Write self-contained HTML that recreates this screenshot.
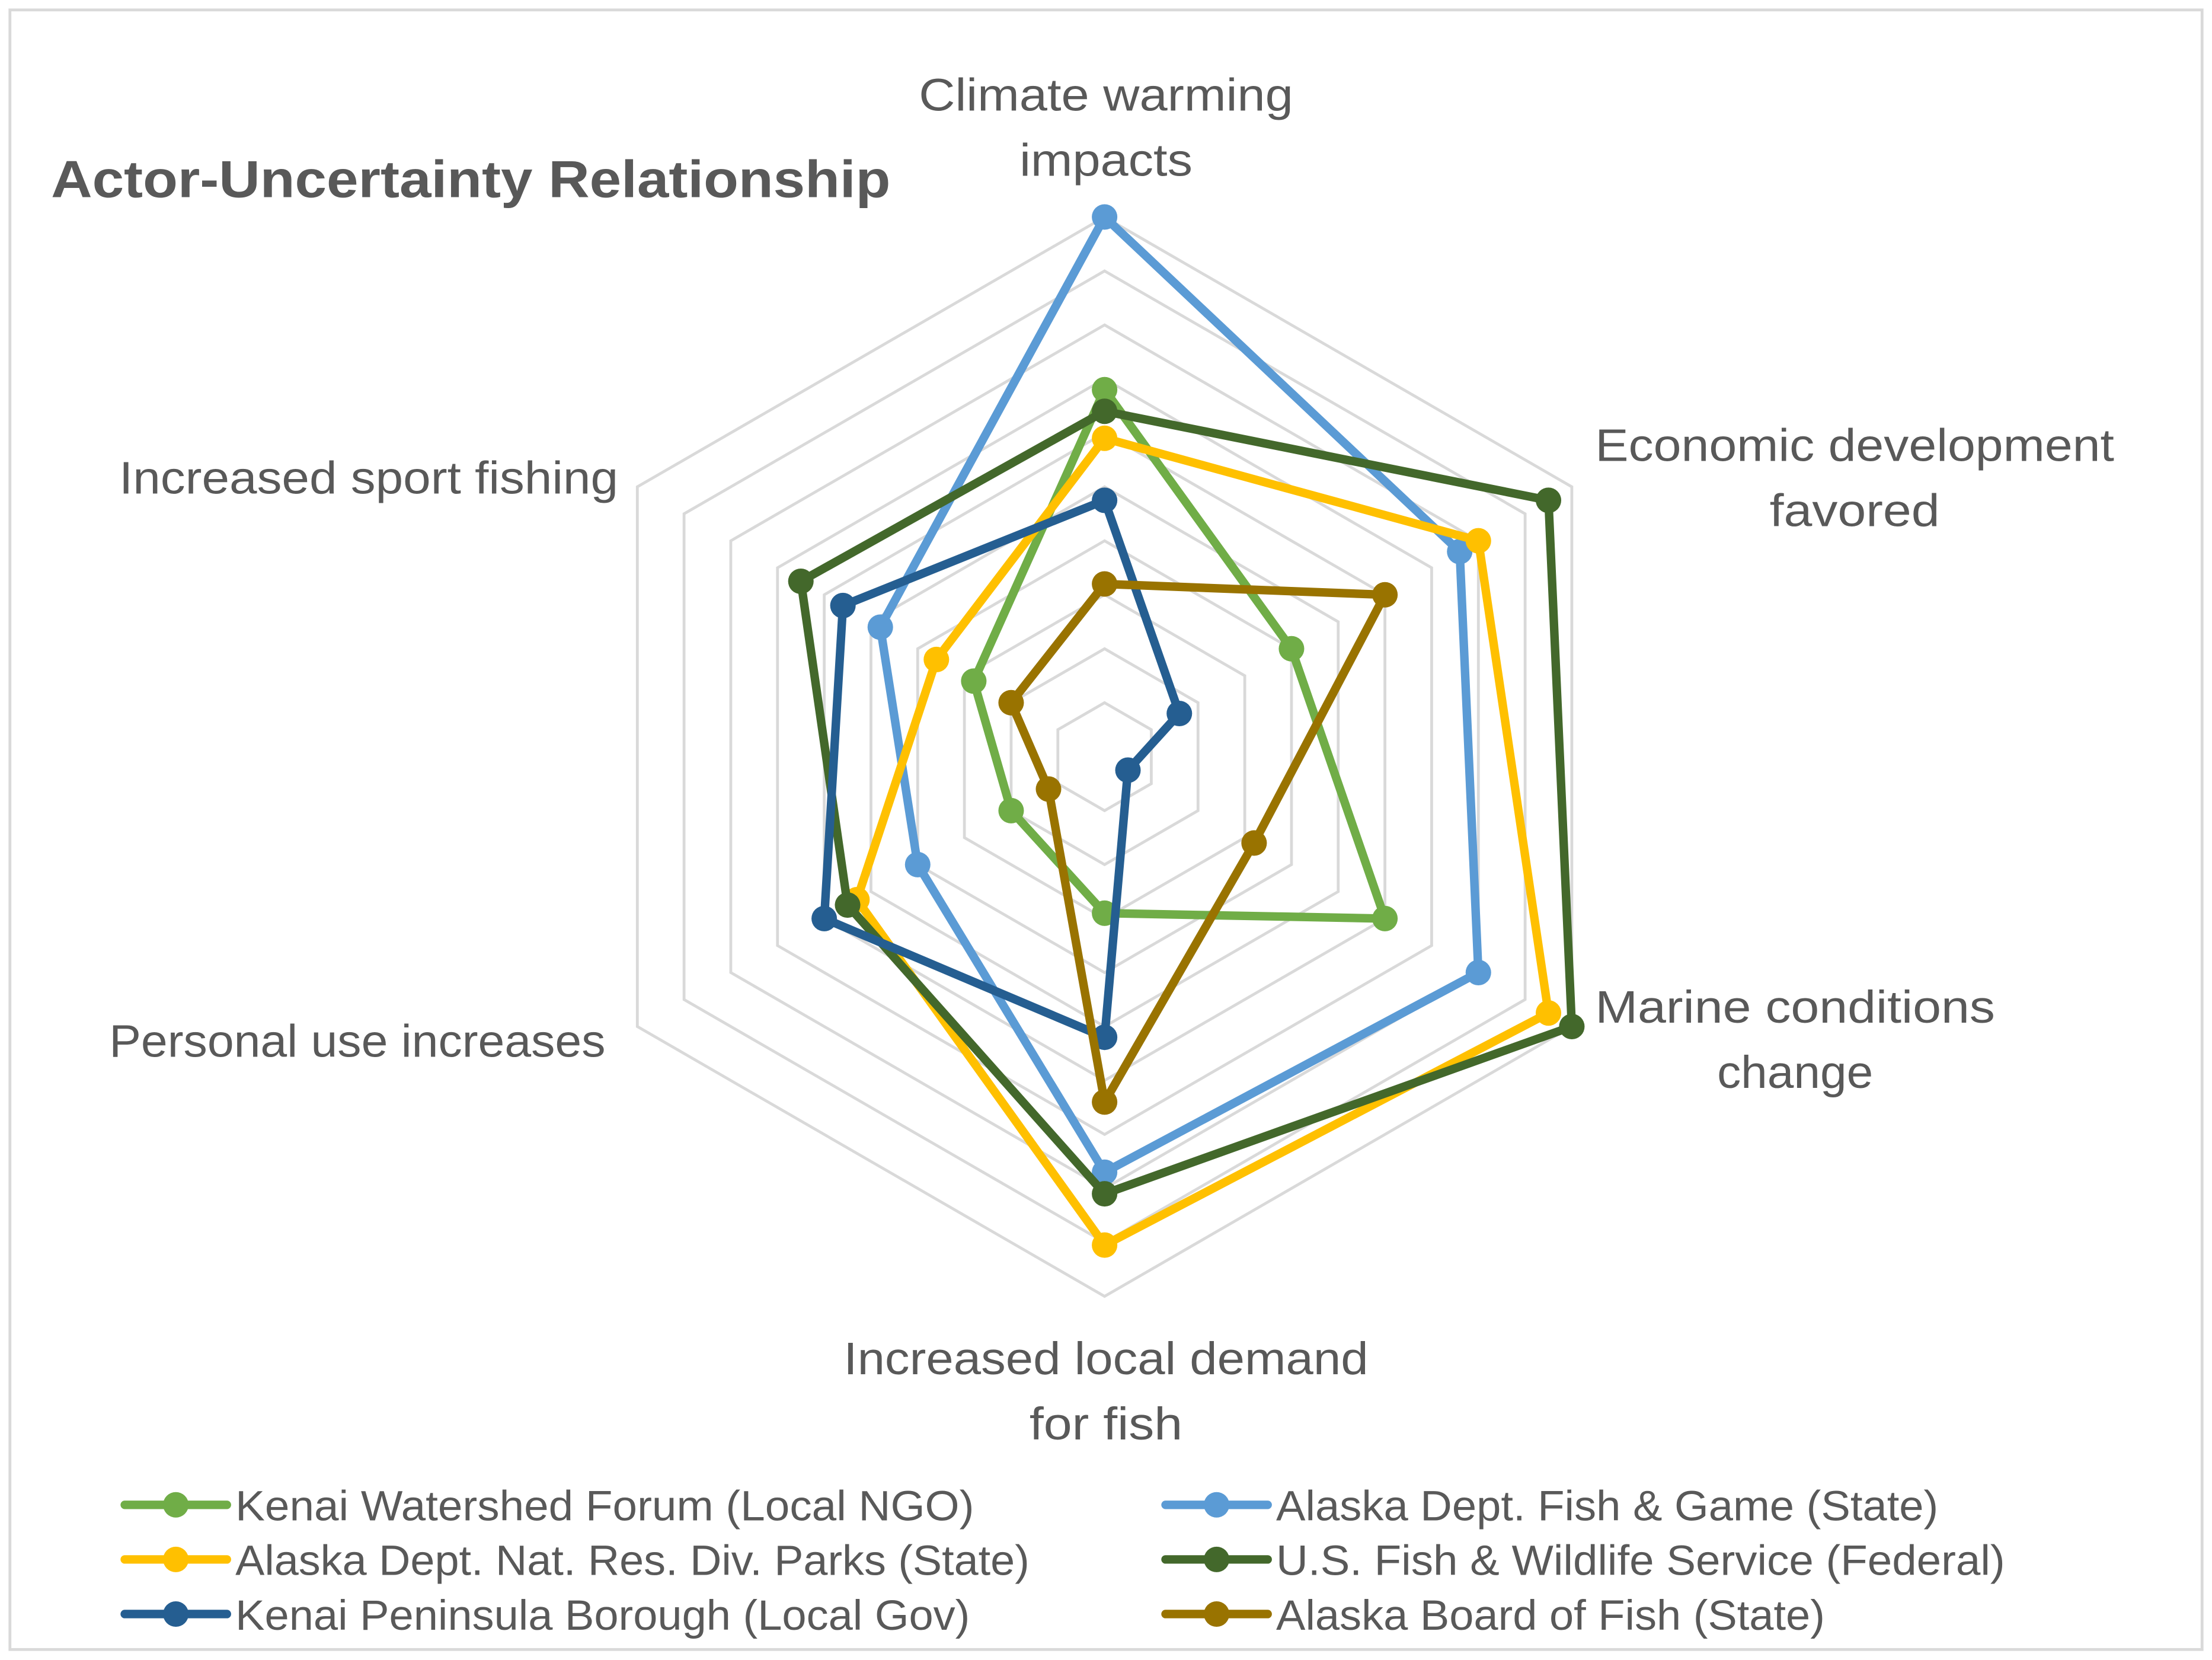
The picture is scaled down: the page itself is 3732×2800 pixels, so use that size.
<!DOCTYPE html>
<html><head><meta charset="utf-8"><style>
html,body{margin:0;padding:0;background:#fff;}
svg{display:block;}
text{font-family:"Liberation Sans",sans-serif;fill:#595959;}
</style></head><body>
<svg id="chart" width="3732" height="2800" viewBox="0 0 1560 1170.4" preserveAspectRatio="none" xmlns="http://www.w3.org/2000/svg">
<rect x="7" y="7" width="1546" height="1156" fill="#fff" stroke="#d9d9d9" stroke-width="2"/>
<text x="36" y="139" font-size="37" font-weight="bold" textLength="592" lengthAdjust="spacingAndGlyphs">Actor-Uncertainty Relationship</text>
<g id="grid"></g>
<g id="labels">
<text x="780" y="78" font-size="32" text-anchor="middle" textLength="264" lengthAdjust="spacingAndGlyphs">Climate warming</text>
<text x="780" y="124" font-size="32" text-anchor="middle" textLength="122" lengthAdjust="spacingAndGlyphs">impacts</text>
<text x="1308" y="325" font-size="32" text-anchor="middle" textLength="366" lengthAdjust="spacingAndGlyphs">Economic development</text>
<text x="1308" y="371" font-size="32" text-anchor="middle" textLength="120" lengthAdjust="spacingAndGlyphs">favored</text>
<text x="1266" y="721" font-size="32" text-anchor="middle" textLength="282" lengthAdjust="spacingAndGlyphs">Marine conditions</text>
<text x="1266" y="767" font-size="32" text-anchor="middle" textLength="110" lengthAdjust="spacingAndGlyphs">change</text>
<text x="780" y="969" font-size="32" text-anchor="middle" textLength="370" lengthAdjust="spacingAndGlyphs">Increased local demand</text>
<text x="780" y="1015" font-size="32" text-anchor="middle" textLength="108" lengthAdjust="spacingAndGlyphs">for fish</text>
<text x="77" y="745" font-size="32" textLength="350" lengthAdjust="spacingAndGlyphs">Personal use increases</text>
<text x="84" y="348" font-size="32" textLength="352" lengthAdjust="spacingAndGlyphs">Increased sport fishing</text>
</g>
<g id="series"></g>
<g id="legend"></g>
</svg>
<script>
const categories = ["Climate warming impacts","Economic development favored","Marine conditions change","Increased local demand for fish","Personal use increases","Increased sport fishing"];
const seriesNames = ["Kenai Watershed Forum (Local NGO)","Alaska Dept. Fish & Game (State)","Alaska Dept. Nat. Res. Div. Parks (State)","U.S. Fish & Wildlife Service (Federal)","Kenai Peninsula Borough (Local Gov)","Alaska Board of Fish (State)"];
const kenaiWatershed = [6.8, 4.0, 6.0, 2.9, 2.0, 2.8];
const fishGame = [10, 7.6, 8.0, 7.7, 4.0, 4.8];
const dnrParks = [5.9, 8.0, 9.5, 9.05, 5.3, 3.6];
const usfws = [6.4, 9.5, 10.0, 8.1, 5.5, 6.5];
const kenaiBorough = [4.75, 1.6, 0.5, 5.2, 6.0, 5.6];
const boardFish = [3.2, 6.0, 3.2, 6.4, 1.2, 2.0];
const maxValue = 10;
const gridSteps = [1,2,3,4,5,6,7,8,9,10];

const NS = "http://www.w3.org/2000/svg";
const cx = 779, cy = 533.5, R = 380.5;
const colors = ["#70ad47","#5b9bd5","#ffc000","#43682b","#255e91","#997300"];
const allSeries = [kenaiWatershed, fishGame, dnrParks, usfws, kenaiBorough, boardFish];
function pt(i, v){
  const a = -Math.PI/2 + i*2*Math.PI/categories.length;
  const r = v / maxValue * R;
  return [cx + r*Math.cos(a), cy + r*Math.sin(a)];
}
const grid = document.getElementById('grid');
gridSteps.forEach(s => {
  const p = document.createElementNS(NS,'polygon');
  p.setAttribute('points', categories.map((c,i)=>pt(i,s).join(',')).join(' '));
  p.setAttribute('fill','none'); p.setAttribute('stroke','#d9d9d9'); p.setAttribute('stroke-width','2');
  
  
  grid.appendChild(p);
});
const sg = document.getElementById('series');
allSeries.forEach((vals, k) => {
  const g = document.createElementNS(NS,'g');
  
  
  const poly = document.createElementNS(NS,'polygon');
  poly.setAttribute('points', vals.map((v,i)=>pt(i,v).join(',')).join(' '));
  poly.setAttribute('fill','none'); poly.setAttribute('stroke',colors[k]); poly.setAttribute('stroke-width','6'); poly.setAttribute('stroke-linejoin','round');
  
  
  g.appendChild(poly);
  vals.forEach((v,i) => {
    const [x,y] = pt(i,v);
    const c = document.createElementNS(NS,'circle');
    c.setAttribute('cx',x); c.setAttribute('cy',y); c.setAttribute('r','9'); c.setAttribute('fill',colors[k]);
    
    
    g.appendChild(c);
  });
  sg.appendChild(g);
});
const lg = document.getElementById('legend');
const legendWidths = [521, 467, 560, 514, 518, 387];
seriesNames.forEach((n,k) => {
  const col = k % 2, row = Math.floor(k/2);
  const x0 = col ? 822 : 88, y = 1061 + row*38.5;
  const g = document.createElementNS(NS,'g');
  
  
  const l = document.createElementNS(NS,'line');
  l.setAttribute('x1',x0); l.setAttribute('x2',x0+72); l.setAttribute('y1',y); l.setAttribute('y2',y);
  l.setAttribute('stroke',colors[k]); l.setAttribute('stroke-width','6'); l.setAttribute('stroke-linecap','round');
  g.appendChild(l);
  const c = document.createElementNS(NS,'circle');
  c.setAttribute('cx',x0+36); c.setAttribute('cy',y); c.setAttribute('r','9'); c.setAttribute('fill',colors[k]);
  g.appendChild(c);
  const t = document.createElementNS(NS,'text');
  t.setAttribute('x',x0+78); t.setAttribute('y',y+11); t.setAttribute('font-size','30');
  t.setAttribute('textLength', legendWidths[k]); t.setAttribute('lengthAdjust','spacingAndGlyphs');
  t.textContent = n;
  g.appendChild(t);
  lg.appendChild(g);
});
</script>
</body></html>
